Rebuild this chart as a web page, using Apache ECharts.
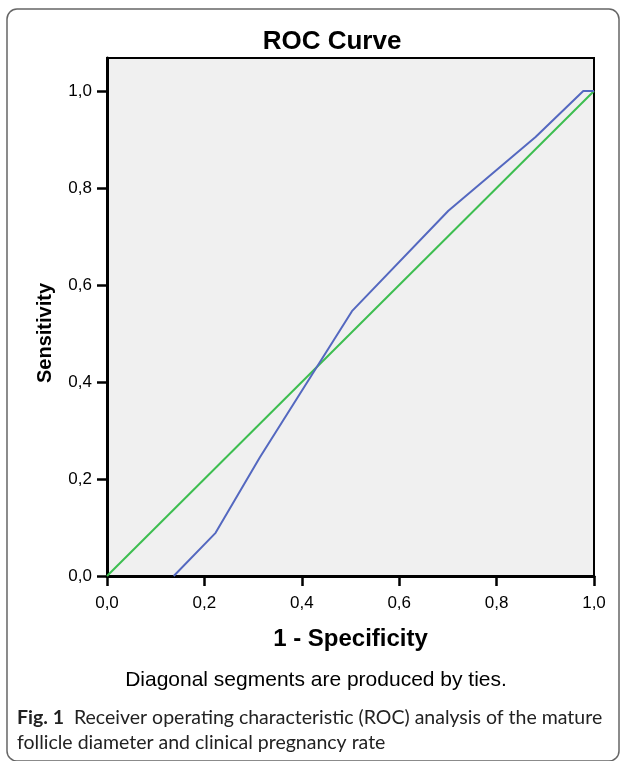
<!DOCTYPE html>
<html>
<head>
<meta charset="utf-8">
<script src="https://cdn.jsdelivr.net/npm/echarts@6/dist/echarts.min.js"></script>
<style>
  html, body { margin: 0; padding: 0; background: #fff; }
  #main { width: 624px; height: 761px; }
</style>
</head>
<body>
<div id="main"></div>
<script>
// ROC curve points (1 - specificity, sensitivity)
const rocX = [0.137, 0.223, 0.314, 0.503, 0.701, 0.88, 0.978, 1.0];
const rocY = [0, 0.089, 0.245, 0.546, 0.753, 0.905, 1.0, 1.0];
// reference diagonal
const refX = [0, 1];
const refY = [0, 1];
const tickValues = [0, 0.2, 0.4, 0.6, 0.8, 1.0];

const chart = echarts.init(document.getElementById('main'));

const fmt = v => v.toFixed(1).replace('.', ',');

const option = {
  backgroundColor: '#fff',
  animation: false,
  title: {
    text: 'ROC Curve',
    left: 327,
    textAlign: 'center',
    top: 24,
    textStyle: { fontFamily: 'Liberation Sans', fontWeight: 'bold', fontSize: 26, color: '#000' }
  },
  grid: {
    left: 107, right: 30, top: 58, bottom: 185,
    show: true,
    backgroundColor: '#f0f0f0',
    borderColor: '#000',
    borderWidth: 2
  },
  xAxis: {
    type: 'value',
    min: 0, max: 1,
    interval: 0.2,
    name: '1 - Specificity',
    nameLocation: 'middle',
    nameGap: 51,
    nameTextStyle: { fontFamily: 'Liberation Sans', fontWeight: 'bold', fontSize: 24, color: '#000' },
    splitLine: { show: false },
    axisLine: { show: true, lineStyle: { color: '#000', width: 3 } },
    axisTick: { show: true, length: 10, lineStyle: { color: '#000', width: 2.5 }, customValues: tickValues },
    axisLabel: { margin: 19, fontFamily: 'Liberation Sans', fontSize: 17, color: '#000', formatter: fmt, customValues: tickValues }
  },
  yAxis: {
    type: 'value',
    min: 0, max: 1.068,
    interval: 0.2,
    splitLine: { show: false },
    axisLine: { show: true, lineStyle: { color: '#000', width: 3 } },
    axisTick: { show: true, length: 10, lineStyle: { color: '#000', width: 2.5 }, customValues: tickValues },
    axisLabel: { margin: 15, fontFamily: 'Liberation Sans', fontSize: 17, color: '#000', formatter: fmt, customValues: tickValues }
  },
  series: [
    {
      name: 'Reference',
      type: 'line',
      data: refX.map((x, i) => [x, refY[i]]),
      symbol: 'none',
      lineStyle: { color: '#3dbe50', width: 2 },
      z: 3
    },
    {
      name: 'ROC',
      type: 'line',
      data: rocX.map((x, i) => [x, rocY[i]]),
      symbol: 'none',
      lineStyle: { color: '#5468c0', width: 2 },
      z: 4
    }
  ],
  graphic: [
    {
      type: 'rect',
      shape: { x: 7, y: 9, width: 612, height: 752, r: 10 },
      style: { fill: 'none', stroke: '#666', lineWidth: 1.5 },
      silent: true
    },
    {
      type: 'text',
      x: 45, y: 333,
      rotation: Math.PI / 2,
      style: {
        text: 'Sensitivity', fill: '#000',
        font: 'bold 20px "Liberation Sans"',
        align: 'center', verticalAlign: 'middle'
      }
    },
    {
      type: 'text',
      x: 316, y: 680,
      style: {
        text: 'Diagonal segments are produced by ties.', fill: '#000',
        font: '21px "Liberation Sans"',
        align: 'center', verticalAlign: 'middle'
      }
    },
    {
      type: 'text',
      x: 17, y: 718,
      style: {
        text: '{b|Fig. 1}  Receiver operating characteristic (ROC) analysis of the mature',
        fill: '#222',
        font: '19.5px Lato',
        verticalAlign: 'middle',
        rich: { b: { fontWeight: 'bold', fontFamily: 'Lato', fontSize: 19.5, fill: '#222' } }
      }
    },
    {
      type: 'text',
      x: 17, y: 743,
      style: {
        text: 'follicle diameter and clinical pregnancy rate',
        fill: '#222',
        font: '19.5px Lato',
        verticalAlign: 'middle'
      }
    }
  ]
};

chart.setOption(option);
</script>
</body>
</html>
